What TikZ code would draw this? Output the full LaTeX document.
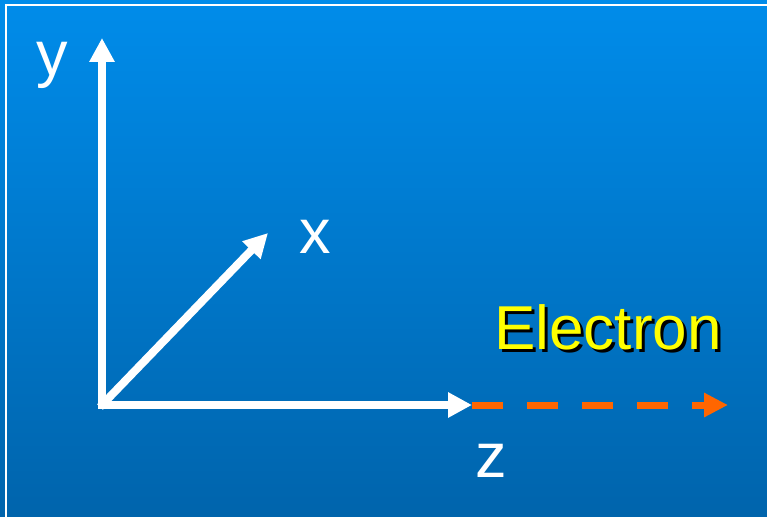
\documentclass[tikz,border=0pt]{standalone}
\usepackage{fontspec}
\setmainfont{Liberation Sans}
\usepackage{tikz}
\usetikzlibrary{arrows.meta,positioning}
\definecolor{slidetop}{RGB}{0,140,234}
\definecolor{slidebottom}{RGB}{0,100,172}
\definecolor{beamorange}{RGB}{255,102,0}
\definecolor{labelyellow}{RGB}{255,255,0}

\begin{document}
\begin{tikzpicture}[x=1pt, y=-1pt,
    axis/.style={white, line width=8pt, -{Triangle[length=24pt, width=24pt]}},
    beam/.style={beamorange, line width=7pt, dash pattern=on 31pt off 24pt,
        -{Triangle[length=24pt, width=23pt]}},
    axislabel/.style={white, anchor=base, inner sep=0pt, font=\fontsize{63}{70}\selectfont}]
    \useasboundingbox (0,0) rectangle (767,516);
    \shade[top color=slidetop, bottom color=slidebottom] (0,0) rectangle (767,516);
    \draw[white, line width=2pt] (6,530) -- (6,5.5) -- (780,5.5);

    % axes
    \coordinate (origin) at (102,405);
    \coordinate (ytip) at (102,38);
    \coordinate (xtip) at (268,233);
    \coordinate (ztip) at (472,405);
    \coordinate (beamtip) at (728,405);
    \draw[axis] (origin) -- (ytip);
    \draw[axis] ([xshift=-2pt,yshift=-2pt]origin) -- (xtip);
    \draw[axis] ([xshift=-4pt]origin) -- (ztip);
    \draw[beam] (ztip) -- (beamtip);

    \node[axislabel] (ylabel) at (52,76) {y};
    \node[axislabel] (xlabel) at (315,253) {x};
    \node[axislabel] (zlabel) at (491,477) {z};

    \node[anchor=base west, inner sep=0pt, font=\fontsize{62}{70}\selectfont, black]
        (electronshadow) at (497,352) {Electron};
    \node[anchor=base west, inner sep=0pt, font=\fontsize{62}{70}\selectfont, labelyellow]
        (electron) at (494,349) {Electron};
\end{tikzpicture}
\end{document}
